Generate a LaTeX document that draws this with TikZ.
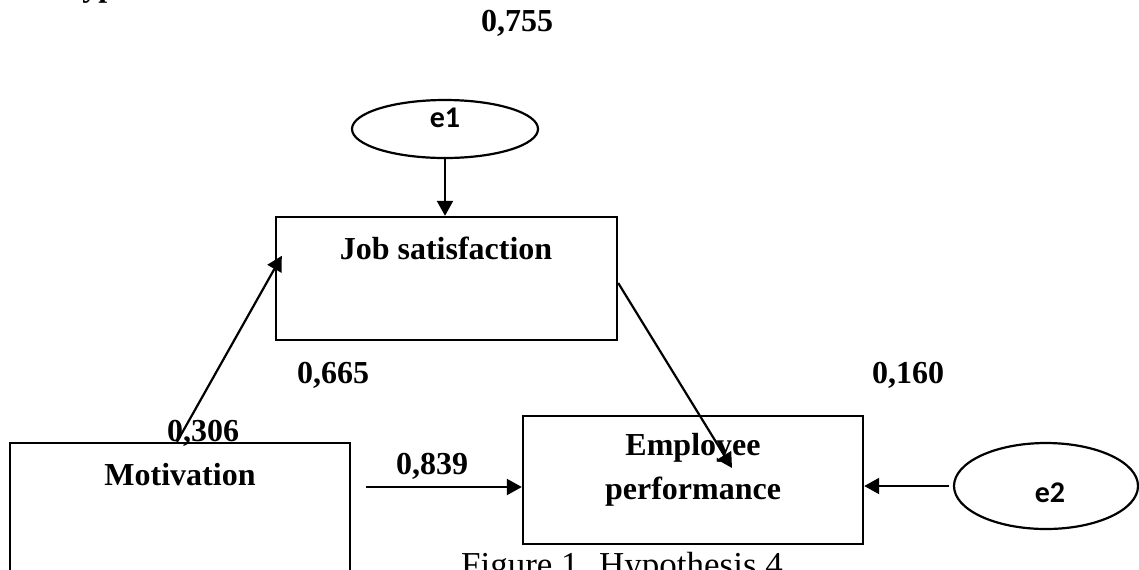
\documentclass[tikz,border=0pt]{standalone}
\usepackage{fontspec}
\setmainfont{Liberation Serif}
\newfontfamily\calibri{Carlito}
\usetikzlibrary{arrows.meta,calc,shapes.geometric}

\begin{document}
\begin{tikzpicture}[x=0.5pt,y=-0.5pt,
    box/.style={draw=black, line width=1.2pt, rectangle, inner sep=0pt},
    err/.style={draw=black, line width=1.1pt, ellipse, inner sep=0pt},
    lbl/.style={font=\fontsize{16}{22}\selectfont\bfseries, inner sep=0pt},
    elbl/.style={font=\fontsize{15}{16}\selectfont\calibri\bfseries, inner sep=0pt},
    path/.style={line width=1.1pt, -{Triangle[length=7.5pt,width=8pt]}}]
    \useasboundingbox (0,0) rectangle (1139,569);
    \clip (0,0) rectangle (1139,569);
    % heading cut off at the top
    \node[lbl, anchor=base west] (head) at (57,-4) {Hypothesis};
    % boxes
    \node[box, minimum width=170.5pt, minimum height=61.5pt] (js) at (446.5,278.5) {};
    \node[lbl] (jstext) at (446,248) {Job satisfaction};
    \node[box, minimum width=170pt, minimum height=80pt] (mot) at (180,523) {};
    \node[lbl] (mottext) at (180,475) {Motivation};
    \node[box, minimum width=170pt, minimum height=64pt] (emp) at (693,480) {};
    \node[lbl, align=center] (emptext) at (693,470) {Employee\\performance};
    % error terms
    \node[err, minimum width=93pt, minimum height=29pt] (e1) at (445,129) {};
    \node[elbl] (e1text) at (445,118) {e1};
    \node[err, minimum width=92pt, minimum height=43pt] (e2) at (1046,486) {};
    \node[elbl] (e2text) at (1050,493) {e2};
    % paths
    \draw[path] (e1.south) -- (e1.south |- js.north);
    \draw[path] ([xshift=-1.5pt]mot.north) -- ($(js.north west)+(7,40)$);
    \draw[path] ([yshift=-2.25pt]js.east) -- ($(emp.center)+(39,-12)$);
    \coordinate (m0) at (366,487);
    \draw[path] (m0) -- (m0 -| emp.west);
    \draw[path] ([xshift=-2pt]e2.west) -- (e2.west -| emp.east);
    % coefficients
    \node[lbl] (c1) at (517,23) {0,755};
    \node[lbl] (c2) at (333,375) {0,665};
    \node[lbl] (c3) at (908,375) {0,160};
    \node[lbl] (c4) at (203,433) {0,306};
    \node[lbl] (c5) at (432,466) {0,839};
    % caption
    \node[font=\fontsize{17.5}{20}\selectfont, anchor=base, inner sep=0pt] (cap) at (622,576) {Figure 1. Hypothesis 4};
\end{tikzpicture}
\end{document}
